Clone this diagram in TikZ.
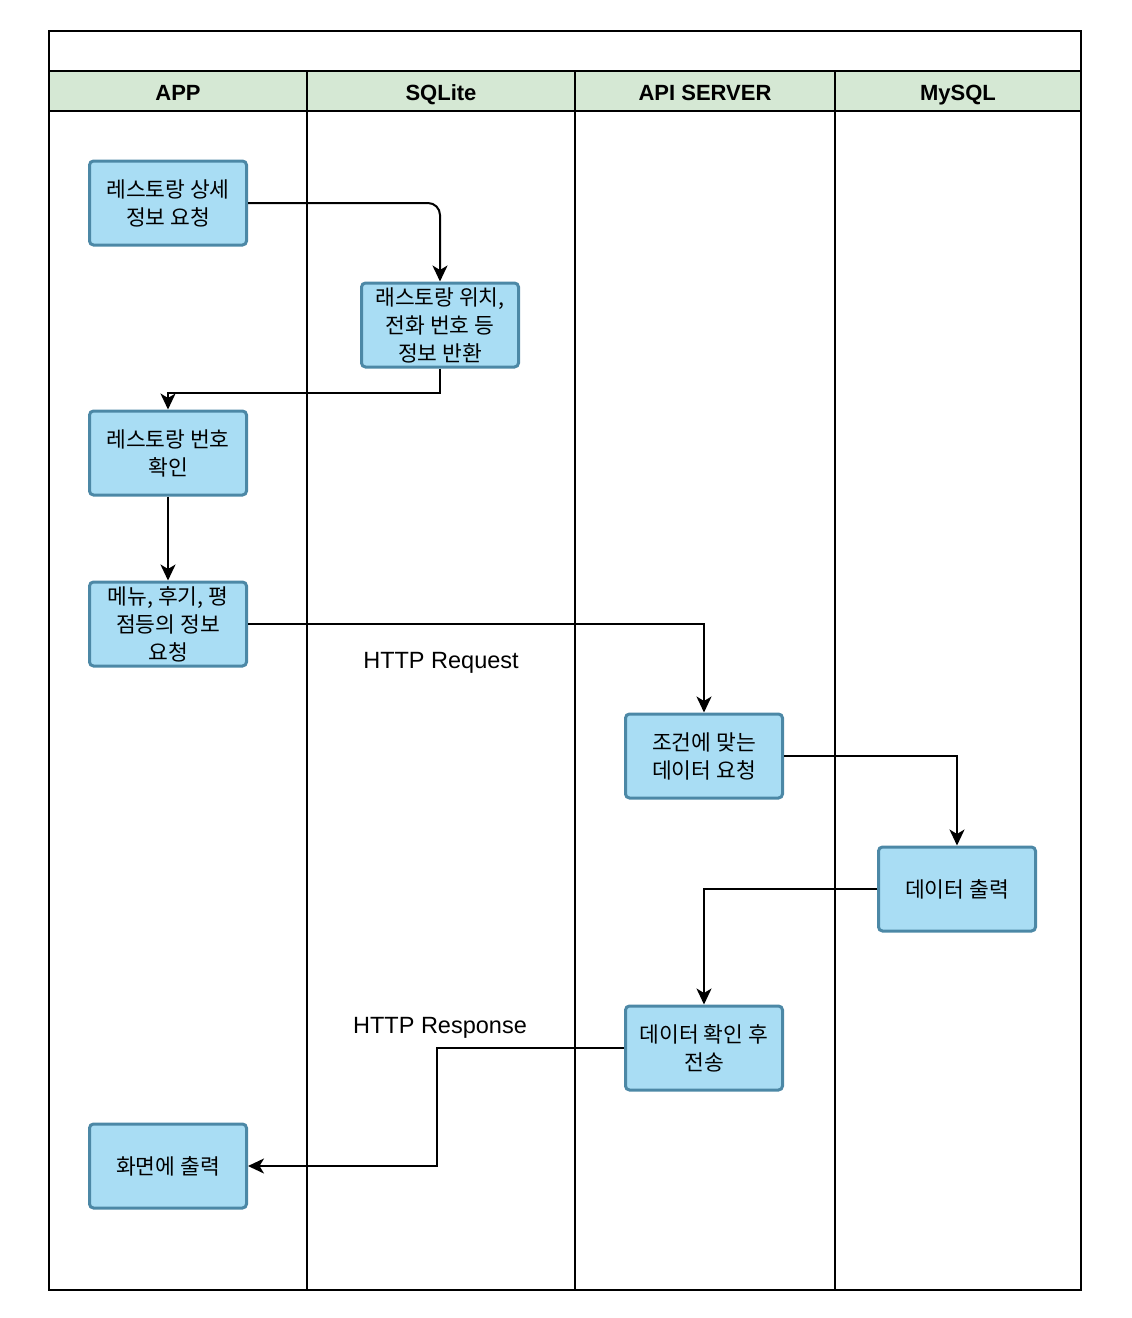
\documentclass[tikz,border=0pt]{standalone}
\usepackage{fontspec}
\setmainfont{Liberation Sans}
\newfontfamily\krfont{Noto Sans CJK KR}
\usetikzlibrary{arrows.meta}
\definecolor{laneHead}{RGB}{213,232,212}
\definecolor{taskFill}{RGB}{169,221,244}
\definecolor{taskLine}{RGB}{76,136,166}
\begin{document}
\begin{tikzpicture}[
        x=1pt, y=-1pt,
        task/.style={rectangle, rounded corners=4pt, fill=taskFill, draw=taskLine, line width=3pt,
            minimum width=157pt, minimum height=84pt, align=center, inner sep=2pt,
            font=\krfont\fontsize{21.5}{28}\selectfont},
        flow/.style={line width=2pt, draw=black, -{Stealth[length=16pt, width=15pt, inset=4.5pt]}},
        lane/.style={line width=2pt, draw=black},
        head/.style={font=\bfseries\fontsize{22}{26}\selectfont, text height=16pt, text depth=5pt},
        msg/.style={font=\fontsize{23.5}{28}\selectfont, text height=17pt, text depth=5pt}
    ]

        \useasboundingbox (0, 0) rectangle (1132, 1318);

        % pool and lanes
        \fill[laneHead] (49, 71) rectangle (1081, 111);
        \draw[lane] (49, 31) rectangle (1081, 1290);
        \draw[lane] (49, 71) -- (1081, 71);
        \draw[lane] (49, 111) -- (1081, 111);
        \foreach \lx in {307, 575, 835}
            \draw[lane] (\lx, 71) -- (\lx, 1290);

        \node[head] (h_app) at (178, 95) {APP};
        \node[head] (h_sqlite) at (441, 95) {SQLite};
        \node[head] (h_api) at (705, 95) {API SERVER};
        \node[head] (h_mysql) at (958, 95) {MySQL};

        % tasks
        \node[task] (req_info) at (168, 203) {레스토랑 상세\\정보 요청};
        \node[task] (ret_info) at (440, 325) {래스토랑 위치,\\전화 번호 등\\정보 반환};
        \node[task] (chk_num) at (168, 453) {레스토랑 번호\\확인};
        \node[task] (req_menu) at (168, 624) {메뉴, 후기, 평\\점등의 정보\\요청};
        \node[task] (req_data) at (704, 756) {조건에 맞는\\데이터 요청};
        \node[task] (out_data) at (957, 889) {데이터 출력};
        \node[task] (send_data) at (704, 1048) {데이터 확인 후\\전송};
        \node[task] (show) at (168, 1166) {화면에 출력};

        \draw[flow, rounded corners=12pt] (req_info.east) -| (ret_info.north);
        \draw[flow] (ret_info.south) -- ++(0, 24) -| (chk_num.north);
        \draw[flow] (chk_num) -- (req_menu);
        \draw[flow] (req_menu.east) -| (req_data.north);
        \draw[flow] (req_data.east) -| (out_data.north);
        \draw[flow] (out_data.west) -| (send_data.north);
        \draw[flow] (send_data.west) -- ++(-187, 0) |- (show.east);

        \node[msg] (l_req) at (441, 662) {HTTP Request};
        \node[msg] (l_resp) at (440, 1027) {HTTP Response};
    \end{tikzpicture}
\end{document}
